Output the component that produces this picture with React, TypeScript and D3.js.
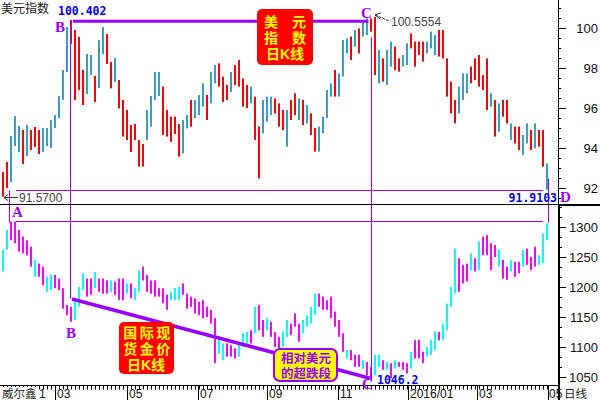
import React from "react";
import * as d3 from "d3";

// ---------- DATA ----------
// US Dollar Index, daily bars (grouped), high / low
const dxyHigh = [
  92.8, 93.3, 94.6, 95.6, 95.1, 94.9, 95.15, 94.9, 95.05, 94.9,
  95.0, 95.0, 95.4, 95.65, 96.6, 97.9, 100.05, 100.4, 99.9, 99.55,
  97.9, 98.7, 98.65, 97.6, 99.4, 100.05, 99.7, 98.3, 98.5, 97.4,
  96.4, 95.9, 95.15, 95.2, 94.4, 94.2, 95.9, 96.6, 97.8, 97.8,
  97.07, 95.9, 95.57, 95.57, 95.2, 95.4, 95.65, 96.4, 96.4, 96.65,
  97.23, 96.65, 97.8, 98.15, 98.23, 97.57, 97.15, 97.8, 98.15, 98.4,
  97.48, 97.15, 97.07, 96.57, 95.07, 96.4, 96.57, 96.57, 96.48, 96.23,
  95.9, 95.9, 96.4, 96.73, 96.48, 96.4, 96.15, 95.73, 95.0, 95.07,
  95.57, 96.9, 97.23, 97.9, 97.73, 99.4, 99.48, 99.57, 99.9, 99.98,
  100.3, 100.48, 100.48, 100.5554, 98.9, 98.48, 98.9, 99.32, 99.07, 98.48,
  98.65, 99.23, 99.73, 99.32, 99.32, 99.32, 99.32, 99.82, 99.65, 99.9,
  99.9, 98.48, 97.32, 96.4, 97.07, 97.73, 97.73, 98.07, 98.48, 98.65,
  97.65, 98.48, 96.73, 96.4, 96.23, 96.4, 96.4, 95.23, 95.07, 95.07,
  94.65, 95.23, 94.9, 95.23, 94.9, 94.9, 93.23,
];
const dxyLow = [
  91.57, 92.0, 92.3, 94.1, 93.8, 93.2, 93.6, 93.9, 94.05, 93.7,
  93.8, 94.1, 94.0, 95.0, 95.5, 96.4, 97.8, 99.2, 96.4, 96.9,
  96.15, 96.7, 97.65, 96.3, 97.0, 98.7, 98.2, 96.98, 97.3, 95.98,
  94.57, 94.4, 93.8, 94.4, 93.07, 93.07, 94.4, 95.07, 96.4, 96.6,
  94.65, 94.57, 94.3, 94.7, 93.57, 93.73, 94.98, 95.07, 95.5, 95.65,
  96.07, 95.4, 96.23, 97.23, 97.07, 96.3, 96.4, 96.8, 97.15, 97.07,
  96.07, 96.0, 96.23, 94.4, 92.48, 94.73, 95.32, 95.65, 95.73, 95.07,
  94.9, 94.07, 95.4, 95.65, 95.4, 95.15, 95.23, 94.65, 93.82, 93.82,
  94.73, 95.5, 96.57, 96.57, 96.57, 97.57, 98.73, 98.4, 99.07, 98.73,
  99.57, 99.65, 99.82, 97.65, 97.23, 97.32, 97.15, 98.07, 97.9, 97.82,
  98.07, 98.15, 98.98, 98.07, 98.65, 98.32, 98.73, 98.98, 98.65, 98.57,
  98.48, 96.57, 95.73, 95.23, 95.73, 96.4, 96.73, 97.23, 97.4, 97.07,
  96.9, 95.9, 96.07, 94.57, 94.82, 95.57, 95.23, 94.4, 94.23, 93.9,
  93.65, 94.23, 93.9, 93.98, 94.07, 93.07, 91.9103,
];
// r = red bar, b = blue bar
const dxyColor =
  "rrbbbrbrrr" + "bbbbbbbrrr" + "rbbrbbrrbr" + "rrrrrrbbbb" + "rrrrrbbrbb" +
  "brbbrrrbrr" + "rrbrrbbbrr" + "rbrrbrbrrb" + "bbbrbbbrbr" + "bbrrbrbbrr" +
  "bbrrrrbbbr" + "rrrrbbbrrr" + "rrbrbrrbrr" + "bbrbrrb";

// Spot gold, daily bars (grouped), high / low
const goldHigh = [
  1262, 1295, 1309, 1309, 1295, 1284, 1278, 1267, 1245, 1239,
  1234, 1217, 1220, 1220, 1214, 1198, 1170, 1167, 1178, 1200,
  1223, 1214, 1214, 1225, 1214, 1214, 1211, 1211, 1209, 1214,
  1214, 1206, 1206, 1198, 1228, 1234, 1220, 1211, 1211, 1198,
  1198, 1187, 1192, 1198, 1200, 1206, 1189, 1184, 1181, 1175,
  1178, 1167, 1162, 1148, 1112, 1106, 1106, 1103, 1098, 1106,
  1123, 1125, 1128, 1167, 1170, 1145, 1148, 1142, 1125, 1117,
  1126, 1145, 1139, 1156, 1139, 1145, 1153, 1167, 1189, 1189,
  1184, 1178, 1184, 1159, 1145, 1123, 1095, 1095, 1087, 1087,
  1078, 1075, 1067, 1087, 1087, 1078, 1075, 1073, 1078, 1075,
  1075, 1073, 1092, 1112, 1112, 1092, 1100, 1112, 1126, 1125,
  1139, 1172, 1200, 1264, 1248, 1237, 1239, 1256, 1248, 1276,
  1284, 1287, 1273, 1270, 1262, 1245, 1234, 1245, 1242, 1242,
  1262, 1264, 1250, 1267, 1253, 1289, 1306,
];
const goldLow = [
  1226, 1262, 1278, 1273, 1259, 1256, 1253, 1234, 1217, 1217,
  1203, 1192, 1195, 1198, 1195, 1164, 1153, 1142, 1145, 1167,
  1195, 1184, 1187, 1198, 1192, 1189, 1189, 1192, 1187, 1178,
  1178, 1189, 1181, 1178, 1192, 1211, 1192, 1189, 1184, 1184,
  1173, 1162, 1178, 1178, 1178, 1187, 1164, 1167, 1156, 1153,
  1148, 1150, 1139, 1073, 1089, 1078, 1084, 1084, 1081, 1084,
  1100, 1106, 1106, 1123, 1128, 1117, 1128, 1117, 1100, 1095,
  1100, 1117, 1120, 1134, 1109, 1123, 1134, 1139, 1153, 1167,
  1162, 1162, 1148, 1134, 1117, 1092, 1081, 1078, 1067, 1067,
  1064, 1053, 1046.2, 1053, 1067, 1062, 1062, 1048, 1064, 1067,
  1062, 1056, 1064, 1081, 1081, 1073, 1084, 1087, 1095, 1111,
  1111, 1128, 1167, 1189, 1192, 1206, 1209, 1228, 1226, 1228,
  1253, 1253, 1228, 1250, 1234, 1214, 1212, 1226, 1217, 1223,
  1234, 1237, 1228, 1234, 1237, 1240, 1278,
];
// c = cyan bar, m = magenta bar
const goldColor =
  "ccmmmmmmcm" + "mccmmmmmcc" + "cmmcmmmcmm" + "mcmccmmmmm" + "mmcccmmmmm" +
  "mmmmccmmmc" + "ccmcmmcmmm" + "ccmmmccccm" + "mmmmmmcmmm" + "cmmccmcmcm" +
  "mmcmmmcccm" + "ccccmmmcmc" + "mmmmcmmcmm" + "cmmmccc";

// axis labels (first one is mostly hidden behind the "威尔鑫" tag: only "1" shows)
const monthLabels = ["1", "03", "05", "07", "09", "11", "2016/01", "03", "05"];
const monthIdx = [-1, 13, 31, 48.75, 66, 83.75, 101.25, 118.5, 136.25];
const dxyTicks = [92, 94, 96, 98, 100];
const goldTicks = [1050, 1100, 1150, 1200, 1250, 1300];

// box captions
const dxyCaption = ["美\u3000元", "指\u3000数", "日K线"];
const goldCaption = ["国际现", "货金价", "日K线"];
const noteCaption = ["相对美元", "的超跌段"];

// key annotation levels
const dxyB = 100.402;
const dxyC = 100.5554;
const dxyA = 91.57;
const dxyD = 91.9103;
const goldLineStart = 1180;
const goldLineEnd = 1048;
const goldC = 1046.2;
const goldA = 1310;
const idxB = 17;
const idxC = 92;

// ---------- STYLE ----------
const PURPLE = "#9900ff";
const RED = "#ff0000";
const BLUE = "#3a9bd5";
const MAG = "#ff00ff";
const CYAN = "#00ffff";
const CJK = "'Noto Sans CJK SC', sans-serif";
// Latin primary font (compact line metrics), CJK glyphs fall back to Noto CJK
const CJK_TIGHT = "'Liberation Sans', 'Noto Sans CJK SC', sans-serif";
const SANS = "'Liberation Sans', Arial, sans-serif";
const MONO = "'DejaVu Sans Mono', monospace";
const SERIF = "'Liberation Serif', serif";

export default function App() {
  const n = dxyHigh.length;
  const x = d3.scaleLinear().domain([0, n - 1]).range([3, 547]);
  const yTop = d3.scaleLinear().domain([92, 100]).range([188, 28]);
  const yGold = d3.scaleLinear().domain([1050, 1300]).range([377, 227]);

  const axisX = 558.5;
  const sepY = 204.5;
  const botY = 385.5;
  const BW = 2;

  const dxyMinor = d3.range(91.5, 101.01, 0.5).filter((v) => v % 2 !== 0);
  const goldMinor = d3.range(1033.33, 1340, 50 / 3).filter(
    (v) => Math.abs(((v - 1050) / 50) - Math.round((v - 1050) / 50)) > 0.05
  );

  const bx = (i: number) => Math.round(x(i)) - 1;

  const yB = yTop(dxyB);
  const xB = Math.round(x(idxB)) - 0.5;
  const xC = Math.round(x(idxC)) + 0.5;
  const yD = Math.round(yTop(dxyD)) + 0.5;
  const yAg = Math.round(yGold(goldA)) + 0.5;

  const labelX = (k: number) => {
    if (k === 0) return 39;
    const t = Math.round(x(monthIdx[k]));
    return k === monthLabels.length - 1 ? t + 1 : t + 2;
  };

  return (
    <svg
      width={600}
      height={400}
      style={{ position: "fixed", left: 0, top: 0, background: "#fff" }}
    >
      <rect x={0} y={0} width={600} height={400} fill="#fff" />

      {/* Dollar index bars */}
      <g>
        {dxyHigh.map((h, i) => {
          const y1 = yTop(h);
          const y2 = yTop(dxyLow[i]);
          return (
            <rect
              key={"d" + i}
              x={bx(i)}
              y={y1}
              width={BW}
              height={Math.max(1, y2 - y1)}
              fill={dxyColor[i] === "r" ? RED : BLUE}
            />
          );
        })}
      </g>

      {/* Gold bars */}
      <g>
        {goldHigh.map((h, i) => {
          const y1 = yGold(h);
          const y2 = yGold(goldLow[i]);
          return (
            <rect
              key={"g" + i}
              x={bx(i)}
              y={y1}
              width={BW}
              height={Math.max(1, y2 - y1)}
              fill={goldColor[i] === "c" ? CYAN : MAG}
            />
          );
        })}
      </g>

      {/* thin purple guide lines */}
      <g stroke={PURPLE} strokeWidth={1} fill="none">
        <line x1={16} x2={543} y1={yD} y2={yD} />
        <line x1={16} x2={543} y1={yAg} y2={yAg} />
        <line x1={9.5} x2={9.5} y1={yD} y2={yAg + 1} />
        <line x1={548.5} x2={548.5} y1={yD - 12} y2={yAg + 1} />
        <line x1={xB} x2={xB} y1={yB + 1} y2={yGold(goldLineStart)} />
        <line x1={xC} x2={xC} y1={yTop(99.55)} y2={yGold(goldC) + 2} />
      </g>

      {/* thick purple lines */}
      <line
        x1={xB + 2.5}
        x2={xC - 3}
        y1={yB + 1.2}
        y2={yB + 1.2}
        stroke={PURPLE}
        strokeWidth={3}
      />
      <line
        x1={xB + 1.5}
        y1={yGold(goldLineStart)}
        x2={xC - 1.5}
        y2={yGold(goldLineEnd)}
        stroke={PURPLE}
        strokeWidth={3.5}
      />

      {/* frame / separators */}
      <line x1={0} x2={axisX} y1={sepY} y2={sepY} stroke="#000" strokeWidth={1} />
      <line x1={axisX} x2={600} y1={205} y2={205} stroke="#000" strokeWidth={2} />
      <line x1={axisX} x2={axisX} y1={0} y2={205} stroke="#000" strokeWidth={1} />
      <line x1={559} x2={559} y1={205} y2={400} stroke="#000" strokeWidth={2} />
      <line x1={0} x2={559} y1={botY} y2={botY} stroke="#000" strokeWidth={1} />

      {/* right axis ticks */}
      <g stroke="#000" strokeWidth={1}>
        {dxyTicks.map((v) => (
          <line key={"dt" + v} x1={559} x2={566} y1={Math.round(yTop(v)) + 0.5} y2={Math.round(yTop(v)) + 0.5} />
        ))}
        {dxyMinor.map((v) => (
          <line key={"dm" + v} x1={559} x2={561} y1={Math.round(yTop(v)) + 0.5} y2={Math.round(yTop(v)) + 0.5} />
        ))}
        {goldTicks.map((v) => (
          <line key={"gt" + v} x1={560} x2={566} y1={Math.round(yGold(v)) + 0.5} y2={Math.round(yGold(v)) + 0.5} />
        ))}
        {goldMinor
          .filter((v) => yGold(v) > 207 && yGold(v) < 384)
          .map((v) => (
            <line key={"gm" + v} x1={560} x2={562} y1={Math.round(yGold(v)) + 0.5} y2={Math.round(yGold(v)) + 0.5} />
          ))}
      </g>
      <g fontFamily={SANS} fontSize={13} fill="#111" textAnchor="end">
        {dxyTicks.map((v) => (
          <text key={"dl" + v} x={598} y={yTop(v) + 5}>
            {v}
          </text>
        ))}
        {goldTicks.map((v) => (
          <text key={"gl" + v} x={598} y={yGold(v) + 5}>
            {v}
          </text>
        ))}
      </g>

      {/* bottom axis ticks */}
      <g stroke="#000" strokeWidth={1}>
        {d3.range(0, n).map((i) => (
          <line key={"bt" + i} x1={Math.round(x(i)) + 0.5} x2={Math.round(x(i)) + 0.5} y1={botY} y2={botY + 4} />
        ))}
        {monthIdx.map((m, k) => (
          <line key={"mt" + k} x1={Math.round(x(m)) + 0.5} x2={Math.round(x(m)) + 0.5} y1={botY} y2={400} />
        ))}
      </g>
      <rect x={0} y={387} width={39} height={13} fill="#fff" />
      <g fontFamily={SANS} fontSize={12} fill="#111">
        {monthLabels.map((lab, k) => (
          <text key={"ml" + k} x={labelX(k)} y={397.5}>
            {lab}
          </text>
        ))}
      </g>
      <text x={2} y={397.5} fontFamily={CJK} fontSize={11.5} fill="#222">
        威尔鑫
      </text>
      <rect x={563} y={387} width={37} height={13} fill="#fff" />
      <text x={564} y={397.5} fontFamily={CJK} fontSize={11.5} fill="#222">
        日线
      </text>

      {/* top panel texts */}
      <text x={1} y={13} fontFamily={CJK} fontSize={12} fill="#222">
        美元指数
      </text>
      <text x={58} y={15} fontFamily={MONO} fontWeight="bold" fontSize={11.5} fill="#0000ff">
        {dxyB.toFixed(3)}
      </text>
      <text x={55} y={32} fontFamily={SERIF} fontWeight="bold" fontSize={15} fill={PURPLE}>
        B
      </text>
      <text x={361} y={18} fontFamily={SERIF} fontWeight="bold" fontSize={15} fill={PURPLE}>
        C
      </text>
      {/* arrow to C high */}
      <g stroke="#333" strokeWidth={1} fill="none">
        <line x1={375} y1={yTop(dxyC) - 2} x2={389} y2={21} strokeDasharray="3,1" />
        <polyline points={`${381},${yTop(dxyC) - 4} ${375},${yTop(dxyC) - 2} ${380},${yTop(dxyC) + 2}`} />
      </g>
      <text x={391} y={26} fontFamily={SANS} fontSize={12} fill="#444">
        {dxyC.toFixed(4)}
      </text>

      {/* arrow to A low */}
      <g stroke="#333" strokeWidth={1} fill="none">
        <line x1={4} x2={18} y1={197.5} y2={197.5} />
        <polyline points="8,194.5 4,197.5 8,200.5" />
      </g>
      <text x={19} y={202} fontFamily={SANS} fontSize={12} fill="#444">
        {dxyA.toFixed(4)}
      </text>
      <text x={557} y={202} textAnchor="end" fontFamily={MONO} fontWeight="bold" fontSize={11.5} fill="#0000ff">
        {dxyD.toFixed(4)}
      </text>
      <text x={560} y={202} fontFamily={SERIF} fontWeight="bold" fontSize={15} fill={PURPLE}>
        D
      </text>

      {/* top red label box */}
      <rect x={257} y={9} width={56} height={56} rx={5} fill={RED} />
      <text fontFamily={CJK_TIGHT} fontWeight="bold" fontSize={14} fill="#ffff00" textAnchor="middle">
        {dxyCaption.map((s, k) => (
          <tspan key={"dc" + k} x={285} y={27 + k * 16}>
            {s}
          </tspan>
        ))}
      </text>

      {/* gold panel texts */}
      <text x={12} y={217} fontFamily={SERIF} fontWeight="bold" fontSize={15} fill={PURPLE}>
        A
      </text>
      <text x={66} y={338} fontFamily={SERIF} fontWeight="bold" fontSize={15} fill={PURPLE}>
        B
      </text>
      <text x={362} y={389} fontFamily={SERIF} fontWeight="bold" fontSize={15} fill={PURPLE}>
        C
      </text>
      <text x={377} y={384} fontFamily={MONO} fontWeight="bold" fontSize={11.5} fill="#0000ff">
        {goldC.toFixed(1)}
      </text>

      <rect x={119} y={322} width={55} height={52} rx={5} fill={RED} />
      <text fontFamily={CJK_TIGHT} fontWeight="bold" fontSize={14} fill="#ffff00" textAnchor="middle">
        {goldCaption.map((s, k) => (
          <tspan key={"gc" + k} x={k === 2 ? 146 : 148} y={338 + k * 16} letterSpacing={k === 2 ? 0 : 2.5}>
            {s}
          </tspan>
        ))}
      </text>

      <rect x={274} y={349} width={63} height={32} rx={6} fill="#ffff00" stroke={PURPLE} strokeWidth={2} />
      <text fontFamily={CJK_TIGHT} fontWeight="bold" fontSize={12.5} fill={PURPLE} textAnchor="middle">
        {noteCaption.map((s, k) => (
          <tspan key={"nc" + k} x={306} y={363 + k * 14.5}>
            {s}
          </tspan>
        ))}
      </text>
    </svg>
  );
}
